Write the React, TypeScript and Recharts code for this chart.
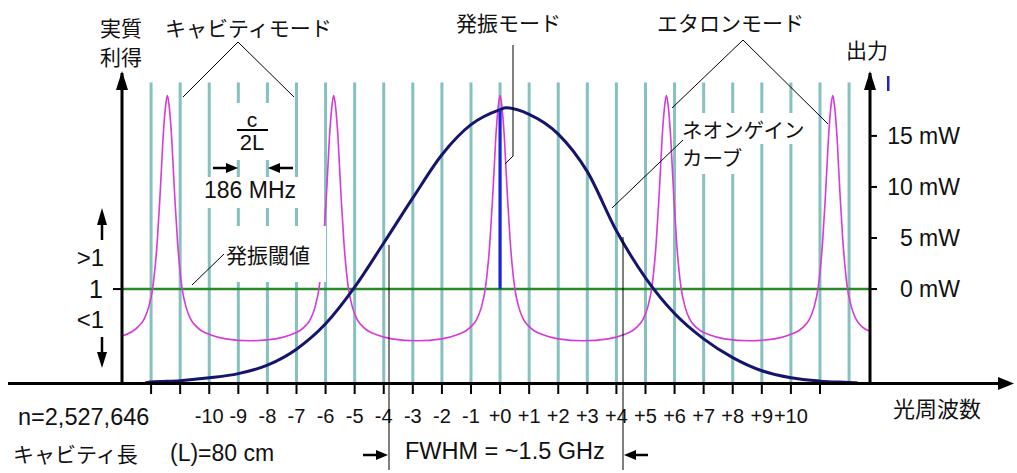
import React from "react";
import { ComposedChart, Line, XAxis, YAxis, ReferenceLine } from "recharts";

// cavity mode numbers (teal lines) and axis ticks
const cavityModes = [-12, -11, -10, -9, -8, -7, -6, -5, -4, -3, -2, -1, 0, 1, 2, 3, 4, 5, 6, 7, 8, 9, 10, 11, 12];
const modeTicks = [-12, -11, -10, -9, -8, -7, -6, -5, -4, -3, -2, -1, 0, 1, 2, 3, 4, 5, 6, 7, 8, 9, 10, 11];
const gainTicks = [1];
const powerTicks = [0, 5, 10, 15];

// etalon transmission (magenta), mode number vs relative gain
const etalonN = [
  -13, -12.44, -12.24, -12.09, -11.94, -11.79, -11.7, -11.64, -11.59, -11.54, -11.49, -11.44,
  -11.39, -11.34, -11.29, -11.24, -11.18, -11.09, -10.94, -10.79, -10.64, -10.44, -9.94, -9.44, -8.58,
  -7.72, -7.22, -6.72, -6.52, -6.37, -6.22, -6.07, -5.98, -5.92, -5.87, -5.82, -5.77, -5.72,
  -5.67, -5.62, -5.57, -5.52, -5.46, -5.37, -5.22, -5.07, -4.92, -4.72, -4.22, -3.72, -2.86,
  -2.0, -1.5, -1.0, -0.8, -0.65, -0.5, -0.35, -0.26, -0.2, -0.15, -0.1, -0.05, 0,
  0.05, 0.1, 0.15, 0.2, 0.26, 0.35, 0.5, 0.65, 0.8, 1.0, 1.5, 2.0, 2.86,
  3.72, 4.22, 4.72, 4.92, 5.07, 5.22, 5.37, 5.46, 5.52, 5.57, 5.62, 5.67, 5.72,
  5.77, 5.82, 5.87, 5.92, 5.98, 6.07, 6.22, 6.37, 6.52, 6.72, 7.22, 7.72, 8.58,
  9.44, 9.94, 10.44, 10.64, 10.79, 10.94, 11.09, 11.18, 11.24, 11.29, 11.34, 11.39, 11.44,
  11.49, 11.54, 11.59, 11.64, 11.7, 11.79, 11.94, 12.09, 12.24, 12.44, 12.72,
];
const etalonGain = [
  0.5, 0.6, 0.68, 0.8, 1.02, 1.5, 1.95, 2.3, 2.6, 2.82, 2.98, 3.06,
  2.98, 2.82, 2.6, 2.3, 1.95, 1.5, 1.02, 0.8, 0.68, 0.6, 0.51, 0.47, 0.45,
  0.47, 0.51, 0.6, 0.68, 0.8, 1.02, 1.5, 1.95, 2.3, 2.6, 2.82, 2.98, 3.06,
  2.98, 2.82, 2.6, 2.3, 1.95, 1.5, 1.02, 0.8, 0.68, 0.6, 0.51, 0.47, 0.45,
  0.47, 0.51, 0.6, 0.68, 0.8, 1.02, 1.5, 1.95, 2.3, 2.6, 2.82, 2.98, 3.06,
  2.98, 2.82, 2.6, 2.3, 1.95, 1.5, 1.02, 0.8, 0.68, 0.6, 0.51, 0.47, 0.45,
  0.47, 0.51, 0.6, 0.68, 0.8, 1.02, 1.5, 1.95, 2.3, 2.6, 2.82, 2.98, 3.06,
  2.98, 2.82, 2.6, 2.3, 1.95, 1.5, 1.02, 0.8, 0.68, 0.6, 0.51, 0.47, 0.45,
  0.47, 0.51, 0.6, 0.68, 0.8, 1.02, 1.5, 1.95, 2.3, 2.6, 2.82, 2.98, 3.06,
  2.98, 2.82, 2.6, 2.3, 1.95, 1.5, 1.02, 0.8, 0.68, 0.6, 0.55,
];

// neon gain curve (navy)
const neonN = [-12.2, -12, -11, -10, -9, -8, -7, -6, -5, -4, -3, -2, -1, 0, 0.2, 1, 2, 3, 4, 5, 6, 7, 8, 9, 10, 11, 12, 12.3];
const neonGain = [0, 0.01, 0.025, 0.055, 0.1, 0.19, 0.36, 0.63, 1.02, 1.49, 1.97, 2.43, 2.75, 2.91, 2.93, 2.86, 2.65, 2.25, 1.62, 1.12, 0.74, 0.47, 0.27, 0.13, 0.055, 0.02, 0.005, 0];

// lasing mode output (blue), in mW
const laserN = [0, 0];
const laserPower = [0, 17.5];

const cavityTop = 3.2;

const etalonData = etalonN.map((n, i) => ({ n, gain: etalonGain[i] }));
const neonData = neonN.map((n, i) => ({ n, gain: neonGain[i] }));
const laserData = laserN.map((n, i) => ({ n, mw: laserPower[i] }));

const latin = '"Liberation Sans", Arial, sans-serif';
const jp = '"Noto Sans CJK JP", sans-serif';

const modeLabel = (v: number) =>
  v >= -10 && v <= 10 ? (v < 0 ? `${v}` : `+${v}`) : "";

const PowerTick = (props: any) => {
  const { x, y, payload } = props;
  return (
    <text x={x + 81} y={y} dy="0.36em" textAnchor="end" fontSize={23} fill="#111">
      {payload.value} mW
    </text>
  );
};

const Txt = ({
  x,
  y,
  size = 21,
  font = jp,
  align = "left",
  children,
}: {
  x: number;
  y: number;
  size?: number;
  font?: string;
  align?: "left" | "right" | "center";
  children: React.ReactNode;
}) => (
  <div
    style={{
      position: "absolute",
      top: y - size / 2,
      left: align === "left" ? x : undefined,
      right: align === "right" ? 1017 - x : undefined,
      ...(align === "center" ? { left: x - 60, width: 120, textAlign: "center" as const } : {}),
      fontSize: size,
      lineHeight: `${size}px`,
      fontFamily: font,
      color: "#111",
      whiteSpace: "nowrap",
    }}
  >
    {children}
  </div>
);

export default function App() {
  return (
    <div
      style={{
        position: "absolute",
        left: 0,
        top: 0,
        width: 1017,
        height: 473,
        background: "#fff",
        fontFamily: latin,
      }}
    >
      <ComposedChart width={1017} height={473} margin={{ top: 73, right: 47, bottom: 50, left: 82 }}>
        <XAxis
          dataKey="n"
          type="number"
          domain={[-13, 12.72]}
          allowDataOverflow
          ticks={modeTicks}
          interval={0}
          tickFormatter={modeLabel}
          axisLine={false}
          tickLine={{ stroke: "#000", strokeWidth: 2 }}
          tickSize={11}
          tickMargin={15}
          height={40}
          tick={{ fill: "#111", fontSize: 20 }}
        />
        <YAxis
          yAxisId="gain"
          orientation="left"
          width={40}
          domain={[0, 3.3]}
          allowDataOverflow
          ticks={gainTicks}
          tickSize={9}
          tickMargin={10}
          axisLine={{ stroke: "#000", strokeWidth: 3 }}
          tickLine={{ stroke: "#000", strokeWidth: 2 }}
          tick={{ fill: "#111", fontSize: 25 }}
        />
        <YAxis
          yAxisId="mw"
          orientation="right"
          width={100}
          domain={[-9.2, 21.16]}
          allowDataOverflow
          ticks={powerTicks}
          tickSize={7}
          axisLine={{ stroke: "#000", strokeWidth: 3 }}
          tickLine={{ stroke: "#000", strokeWidth: 2 }}
          tick={<PowerTick />}
        />
        {cavityModes.map((m) => (
          <ReferenceLine
            key={m}
            yAxisId="gain"
            segment={[
              { x: m, y: 0 },
              { x: m, y: cavityTop },
            ]}
            stroke="#86c0c0"
            strokeWidth={3}
          />
        ))}
        <ReferenceLine yAxisId="gain" y={1} stroke="#2a8a2a" strokeWidth={2.5} />
        <Line
          data={etalonData}
          dataKey="gain"
          yAxisId="gain"
          type="monotone"
          stroke="#d83ad8"
          strokeWidth={1.6}
          dot={false}
          isAnimationActive={false}
        />
        <Line
          data={neonData}
          dataKey="gain"
          yAxisId="gain"
          type="monotone"
          stroke="#15156e"
          strokeWidth={3}
          dot={false}
          isAnimationActive={false}
        />
        <Line
          data={laserData}
          dataKey="mw"
          yAxisId="mw"
          type="linear"
          stroke="#1f1fdd"
          strokeWidth={3}
          dot={false}
          isAnimationActive={false}
        />
      </ComposedChart>

      {/* annotation layer: label boxes, leader lines and arrows */}
      <svg width={1017} height={473} style={{ position: "absolute", left: 0, top: 0, pointerEvents: "none" }}>
        <g fill="#fff">
          <rect x={222} y={103} width={62} height={57} />
          <rect x={200} y={177} width={106} height={31} />
          <rect x={222} y={226} width={104} height={56} />
          <rect x={680} y={113} width={122} height={31} />
          <rect x={680} y={144} width={70} height={30} />
        </g>
        <g stroke="#000" fill="none" strokeWidth={1}>
          <polyline points="183,97 238,42 294,97" />
          <polyline points="513,45 513,156 505,164" />
          <polyline points="672,108 743,40 828,124" />
          <line x1={612} y1={208} x2={683} y2={140} />
          <line x1={192} y1={285} x2={224} y2={254} />
          <line x1={389} y1={245} x2={389} y2={470} />
          <line x1={623} y1={237} x2={623} y2={470} />
        </g>
        <g stroke="#000" strokeWidth={2.5}>
          <line x1={8} y1={383.5} x2={1000} y2={383.5} strokeWidth={3} />
          <line x1={237} y1={130} x2={268} y2={130} strokeWidth={2} />
          <line x1={102} y1={240} x2={102} y2={222} />
          <line x1={102} y1={337} x2={102} y2={354} />
          <line x1={213} y1={168} x2={228} y2={168} />
          <line x1={280} y1={168} x2={293} y2={168} />
          <line x1={363} y1={455} x2={378} y2={455} />
          <line x1={634} y1={455} x2={648} y2={455} />
        </g>
        <g fill="#000">
          <polygon points="1014,383.5 998,377 998,390" />
          <polygon points="122,71 116,90 128,90" />
          <polygon points="870,71 864,90 876,90" />
          <polygon points="102,208 97,225 107,225" />
          <polygon points="102,368 97,352 107,352" />
          <polygon points="238,168 226,163 226,173" />
          <polygon points="268,168 280,163 280,173" />
          <polygon points="388,455 376,450 376,460" />
          <polygon points="624,455 636,450 636,460" />
        </g>
        <rect x={887} y={76} width={2.5} height={15} fill="#2222cc" />
      </svg>

      <Txt x={100} y={27}>実質</Txt>
      <Txt x={100} y={56}>利得</Txt>
      <Txt x={165} y={27}>キャビティモード</Txt>
      <Txt x={456} y={22}>発振モード</Txt>
      <Txt x={657} y={22}>エタロンモード</Txt>
      <Txt x={846} y={49}>出力</Txt>
      <Txt x={682} y={129} size={20.5}>ネオンゲイン</Txt>
      <Txt x={682} y={157} size={20.5}>カーブ</Txt>
      <Txt x={226} y={254}>発振閾値</Txt>
      <Txt x={252} y={119} size={21} font={latin} align="center">c</Txt>
      <Txt x={252} y={143} size={22} font={latin} align="center">2L</Txt>
      <Txt x={204} y={190} size={23} font={latin}>186 MHz</Txt>
      <Txt x={104} y={258} size={24} font={latin} align="right">&gt;1</Txt>
      <Txt x={104} y={320} size={24} font={latin} align="right">&lt;1</Txt>
      <Txt x={18} y={418} size={23.5} font={latin}>n=2,527,646</Txt>
      <Txt x={13} y={453}>キャビティ長</Txt>
      <Txt x={170} y={453} size={23} font={latin}>(L)=80 cm</Txt>
      <Txt x={405} y={452} size={23.5} font={latin}>FWHM = ~1.5 GHz</Txt>
      <Txt x={893} y={407} size={22}>光周波数</Txt>
    </div>
  );
}
